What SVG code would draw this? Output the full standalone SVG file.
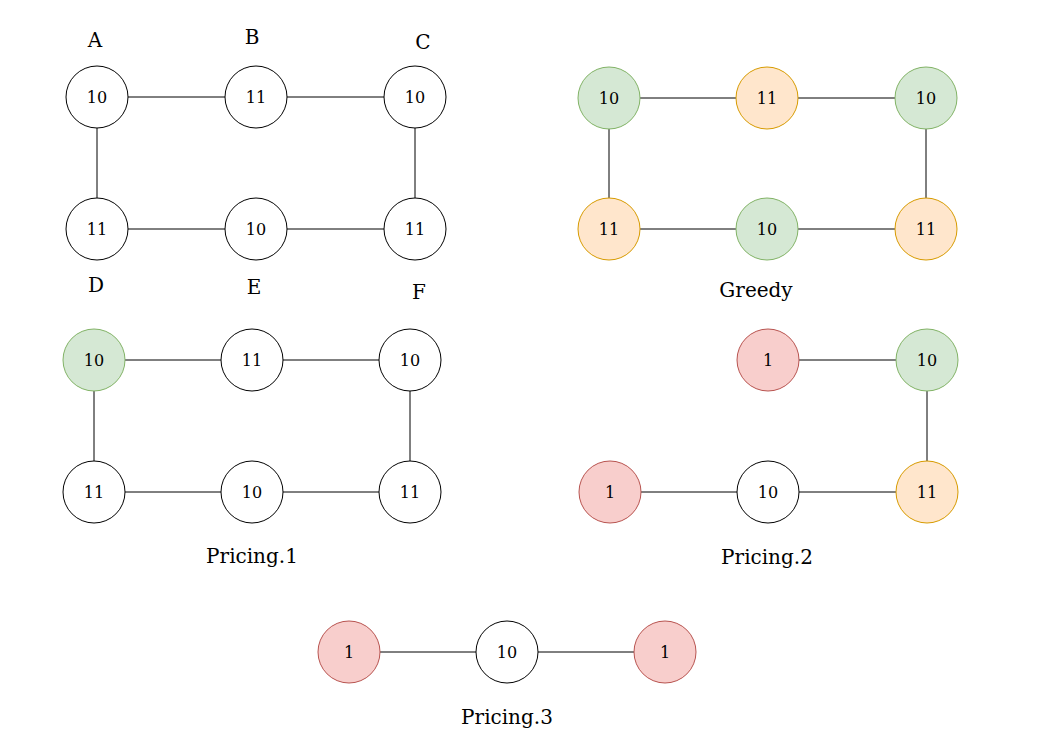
<svg xmlns="http://www.w3.org/2000/svg" width="1044" height="754" viewBox="0 0 1044 754">
<style>
.n{stroke-width:1}
.w{fill:#ffffff;stroke:#000000}
.g{fill:#d5e8d4;stroke:#82b366}
.o{fill:#ffe6cc;stroke:#d79b00}
.r{fill:#f8cecc;stroke:#b85450}
.t{font-family:"DejaVu Serif","Liberation Serif",serif;font-size:16px;fill:#000;text-anchor:middle;dominant-baseline:central}
.l{font-family:"DejaVu Serif","Liberation Serif",serif;font-size:20px;fill:#000;text-anchor:middle;dominant-baseline:central}
.e line{stroke:#000;stroke-width:1}
</style>
<rect width="1044" height="754" fill="#fff"/>
<g id="connectors" class="e">
<line x1="128" y1="97" x2="225" y2="97"/>
<line x1="287" y1="97" x2="384" y2="97"/>
<line x1="97" y1="128" x2="97" y2="198"/>
<line x1="415" y1="128" x2="415" y2="198"/>
<line x1="128" y1="229" x2="225" y2="229"/>
<line x1="287" y1="229" x2="384" y2="229"/>
<line x1="640" y1="98" x2="736" y2="98"/>
<line x1="798" y1="98" x2="895" y2="98"/>
<line x1="609" y1="129" x2="609" y2="198"/>
<line x1="926" y1="129" x2="926" y2="198"/>
<line x1="640" y1="229" x2="736" y2="229"/>
<line x1="798" y1="229" x2="895" y2="229"/>
<line x1="125" y1="360" x2="221" y2="360"/>
<line x1="283" y1="360" x2="379" y2="360"/>
<line x1="94" y1="391" x2="94" y2="461"/>
<line x1="410" y1="391" x2="410" y2="461"/>
<line x1="125" y1="492" x2="221" y2="492"/>
<line x1="283" y1="492" x2="379" y2="492"/>
<line x1="799" y1="360" x2="896" y2="360"/>
<line x1="927" y1="391" x2="927" y2="461"/>
<line x1="641" y1="492" x2="737" y2="492"/>
<line x1="799" y1="492" x2="896" y2="492"/>
<line x1="380" y1="652" x2="476" y2="652"/>
<line x1="538" y1="652" x2="634" y2="652"/>
</g>
<g id="label-A"><text class="l" x="95" y="40">A</text></g>
<g id="label-B"><text class="l" x="252" y="37">B</text></g>
<g id="label-C"><text class="l" x="423" y="42">C</text></g>
<g id="label-D"><text class="l" x="96" y="285">D</text></g>
<g id="label-E"><text class="l" x="254" y="287">E</text></g>
<g id="label-F"><text class="l" x="419" y="292">F</text></g>
<g id="n1"><circle class="n w" cx="97" cy="97" r="31"/><text class="t" x="97" y="97">10</text></g>
<g id="n2"><circle class="n w" cx="256" cy="97" r="31"/><text class="t" x="256" y="97">11</text></g>
<g id="n3"><circle class="n w" cx="415" cy="97" r="31"/><text class="t" x="415" y="97">10</text></g>
<g id="n4"><circle class="n w" cx="97" cy="229" r="31"/><text class="t" x="97" y="229">11</text></g>
<g id="n5"><circle class="n w" cx="256" cy="229" r="31"/><text class="t" x="256" y="229">10</text></g>
<g id="n6"><circle class="n w" cx="415" cy="229" r="31"/><text class="t" x="415" y="229">11</text></g>
<g id="g1"><circle class="n g" cx="609" cy="98" r="31"/><text class="t" x="609" y="98">10</text></g>
<g id="g2"><circle class="n o" cx="767" cy="98" r="31"/><text class="t" x="767" y="98">11</text></g>
<g id="g3"><circle class="n g" cx="926" cy="98" r="31"/><text class="t" x="926" y="98">10</text></g>
<g id="g4"><circle class="n o" cx="609" cy="229" r="31"/><text class="t" x="609" y="229">11</text></g>
<g id="g5"><circle class="n g" cx="767" cy="229" r="31"/><text class="t" x="767" y="229">10</text></g>
<g id="g6"><circle class="n o" cx="926" cy="229" r="31"/><text class="t" x="926" y="229">11</text></g>
<g id="label-greedy"><text class="l" x="756" y="290">Greedy</text></g>
<g id="p1a"><circle class="n g" cx="94" cy="360" r="31"/><text class="t" x="94" y="360">10</text></g>
<g id="p1b"><circle class="n w" cx="252" cy="360" r="31"/><text class="t" x="252" y="360">11</text></g>
<g id="p1c"><circle class="n w" cx="410" cy="360" r="31"/><text class="t" x="410" y="360">10</text></g>
<g id="p1d"><circle class="n w" cx="94" cy="492" r="31"/><text class="t" x="94" y="492">11</text></g>
<g id="p1e"><circle class="n w" cx="252" cy="492" r="31"/><text class="t" x="252" y="492">10</text></g>
<g id="p1f"><circle class="n w" cx="410" cy="492" r="31"/><text class="t" x="410" y="492">11</text></g>
<g id="label-pricing1"><text class="l" x="252" y="556">Pricing.1</text></g>
<g id="p2b"><circle class="n r" cx="768" cy="360" r="31"/><text class="t" x="768" y="360">1</text></g>
<g id="p2c"><circle class="n g" cx="927" cy="360" r="31"/><text class="t" x="927" y="360">10</text></g>
<g id="p2d"><circle class="n r" cx="610" cy="492" r="31"/><text class="t" x="610" y="492">1</text></g>
<g id="p2e"><circle class="n w" cx="768" cy="492" r="31"/><text class="t" x="768" y="492">10</text></g>
<g id="p2f"><circle class="n o" cx="927" cy="492" r="31"/><text class="t" x="927" y="492">11</text></g>
<g id="label-pricing2"><text class="l" x="767" y="557">Pricing.2</text></g>
<g id="p3a"><circle class="n r" cx="349" cy="652" r="31"/><text class="t" x="349" y="652">1</text></g>
<g id="p3b"><circle class="n w" cx="507" cy="652" r="31"/><text class="t" x="507" y="652">10</text></g>
<g id="p3c"><circle class="n r" cx="665" cy="652" r="31"/><text class="t" x="665" y="652">1</text></g>
<g id="label-pricing3"><text class="l" x="507" y="717">Pricing.3</text></g>
</svg>
